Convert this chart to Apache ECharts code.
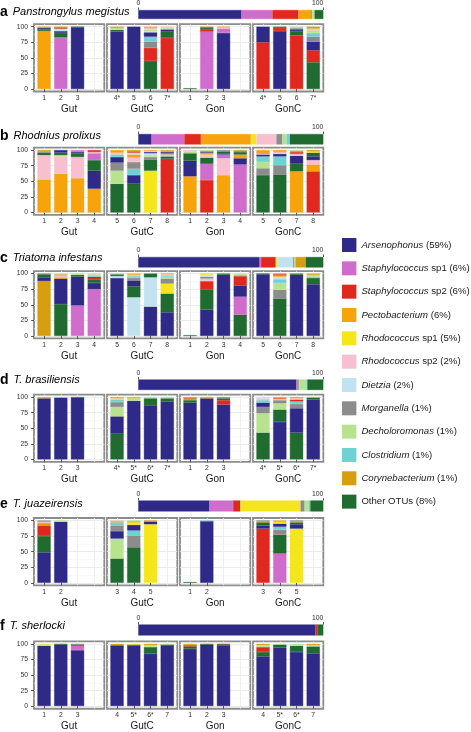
<!DOCTYPE html>
<html><head><meta charset="utf-8">
<script src="https://cdn.jsdelivr.net/npm/echarts@6/dist/echarts.min.js"></script>
<style>html,body{margin:0;padding:0;background:#fff}#c{width:471px;height:732px}</style>
</head><body><div id="c"></div>
<script>
// ---------- taxa / legend ----------
const taxa = ['Arsenophonus','Staphylococcus','Staphylococcus','Pectobacterium','Rhodococcus','Rhodococcus','Dietzia','Morganella','Decholoromonas','Clostridium','Corynebacterium','Other OTUs'];
const taxaSuffix = [' (59%)',' sp1 (6%)',' sp2 (6%)',' (6%)',' sp1 (5%)',' sp2 (2%)',' (2%)',' (1%)',' (1%)',' (1%)',' (1%)',' (8%)'];
const taxaCodes = ['A','S1','S2','P','R1','R2','D','M','De','C','Co','O'];
const palette = ['#2f2a88','#d06ccc','#e0281f','#f6a30c','#f5e61c','#f8bfd0','#c2e2f0','#8c8c8c','#b8e38e','#6fd2d2','#d69e10','#1f6b30'];

const panelLetters = ['a','b','c','d','e','f'];
const speciesNames = ['Panstrongylus megistus','Rhodnius prolixus','Triatoma infestans','T. brasiliensis','T. juazeirensis','T. sherlocki'];
const facetNames = ['Gut','GutC','Gon','GonC'];
const yTicks = [0,25,50,75,100];
const yMinorTicks = [12.5,37.5,62.5,87.5];
const summaryTicks = [0,100];

// ---------- overall composition (legend order) ----------
const aSummary = [55.8,16.7,14.1,6.9,0,0,0,0.5,1.3,0,0,4.7];
const bSummary = [7.2,17.7,9.0,27.0,3.0,10.8,0,3.2,2.2,1.8,0,18.1];
const cSummary = [65.6,0.7,8.0,0,0.7,0,8.7,0.7,0.4,0.3,5.4,9.5];
const dSummary = [85.5,0.9,0,0,0,0,0,0.5,4.0,0.5,0,8.6];
const eSummary = [38.5,12.7,4.0,0,32.5,0,0,2.2,2.2,0.9,0,7.0];
const fSummary = [95.8,0,0.9,0,0,0,0,0,0,0,0,3.3];

// ---------- sample labels ----------
const aLabels = [['1','2','3'],['4*','5','6','7*'],['1','2','3'],['4*','5','6','7*']];
const bLabels = [['1','2','3','4'],['5','6','7','8'],['1','2','3','4'],['5','6','7','8']];
const cLabels = [['1','2','3','4'],['5','6','7','8'],['1','2','3','4'],['5','6','7','8']];
const dLabels = [['1','2','3'],['4*','5*','6*','7*'],['1','2','3'],['4*','5*','6*','7*']];
const eLabels = [['1','2'],['3','4','5'],['1','2'],['3','4','5']];
const fLabels = [['1','2','3'],['4','5*','6*','7'],['1','2','3'],['4','5*','6*','7']];

// ---------- per-sample composition, bottom-to-top segments [taxon, %] ----------
const aGut = [
  [['P',93],['O',3],['A',2],['Co',2]],
  [['S1',82],['M',1],['O',7],['A',3],['D',3],['C',1],['S2',2],['P',1]],
  [['A',99],['O',1]]];
const aGutC = [
  [['A',92],['O',3],['De',3],['Co',2]],
  [['A',100]],
  [['O',45],['S2',21],['M',10],['C',8],['A',7],['D',2],['De',3],['R2',2],['P',2]],
  [['S2',82],['O',10],['A',3],['M',1.5],['De',2.5],['R2',1]]];
const aGon = [
  [['O',1.2]],
  [['S1',92],['S2',3],['O',3],['A',1],['Co',1]],
  [['A',90],['S1',7],['R2',2],['P',1]]];
const aGonC = [
  [['S2',75],['A',25]],
  [['A',93],['S2',5],['O',2]],
  [['S2',86],['O',7],['A',3],['M',1.5],['De',2.5]],
  [['O',43],['S2',19],['A',14],['M',8],['C',6],['De',4],['R2',3],['Co',3]]];

const bGut = [
  [['P',53],['R2',39],['O',4],['M',2],['Co',2]],
  [['P',62],['R2',28],['De',2],['O',4],['A',4]],
  [['P',55],['R2',34],['O',6],['A',2],['S1',3]],
  [['P',38],['A',29],['O',17],['S1',11],['R2',2],['S2',3]]];
const bGutC = [
  [['O',46],['De',21],['M',13],['A',9],['C',4],['R2',3],['P',4]],
  [['O',46],['A',14],['C',10],['M',11],['R2',7],['P',5],['D',3],['S2',2],['Co',2]],
  [['R1',67],['O',18],['M',4],['De',3],['D',3],['A',2],['R2',2],['P',1]],
  [['S2',86],['O',4],['R2',3],['M',2],['A',2],['P',2],['Co',1]]];
const bGon = [
  [['P',58],['A',25],['O',12],['De',3],['R2',2]],
  [['S2',52],['S1',26],['O',10],['R2',5],['P',3],['A',2],['De',2]],
  [['P',60],['R2',27],['S1',6],['A',2],['O',3],['M',2]],
  [['S1',77],['A',10],['P',6],['O',4],['M',2],['Co',1]]];
const bGonC = [
  [['O',60],['M',11],['De',10],['C',9],['A',3],['R2',2],['S2',1],['P',4]],
  [['O',61],['M',15],['C',14],['A',4],['R2',3],['Co',1],['P',2]],
  [['P',66],['O',12],['A',13],['R2',3],['S2',3],['Co',2],['De',1]],
  [['S2',66],['P',11],['R2',7],['A',6],['O',6],['R1',2],['Co',2]]];

const cGut = [
  [['Co',88],['A',6],['O',5],['M',1]],
  [['O',51],['A',41],['P',2],['R2',3],['Co',2],['D',1]],
  [['S1',49],['A',46],['O',3],['De',2]],
  [['S1',75],['A',10],['O',6],['S2',4],['C',2],['De',2],['R2',1]]];
const cGutC = [
  [['A',93],['D',3],['O',3],['De',1]],
  [['D',62],['O',17.5],['A',9.5],['M',4],['C',3],['R2',2],['P',2]],
  [['A',47],['D',47],['O',6]],
  [['A',38],['O',30],['R1',16],['M',8],['De',3],['C',2],['R2',2],['P',1]]];
const cGon = [
  [['O',1.2]],
  [['A',42],['O',33],['S2',13],['R2',4],['M',3],['D',2],['R1',2],['De',1]],
  [['A',98],['O',2]],
  [['O',34],['S1',29],['A',18],['S2',15],['C',2],['De',2]]];
const cGonC = [
  [['A',99],['O',1]],
  [['O',60],['M',14],['De',11],['C',6],['D',4],['P',2],['S2',2],['Co',1]],
  [['A',98],['O',2]],
  [['A',83],['O',10],['C',2],['De',3],['Co',2]]];

const dGut = [
  [['A',98],['P',2]],
  [['A',99],['C',1]],
  [['A',99],['O',1]]];
const dGutC = [
  [['O',41],['A',28],['De',15],['M',8],['C',4],['R2',2],['P',2]],
  [['A',94],['De',4],['P',2]],
  [['A',87],['O',11],['De',2]],
  [['A',93],['O',5],['De',2]]];
const dGon = [
  [['A',91],['O',4],['Co',3],['S2',1],['P',1]],
  [['A',98],['Co',1],['P',1]],
  [['A',88],['S2',7],['O',3],['M',2]]];
const dGonC = [
  [['O',43],['De',31],['M',10],['A',7],['C',4],['R2',3],['D',2]],
  [['A',60],['O',20],['De',10],['M',5],['R2',2],['S2',1],['P',2]],
  [['O',43],['A',39],['M',7],['C',4],['S2',3],['R2',2],['P',2]],
  [['A',96],['O',3],['P',1]]];

const eGut = [
  [['A',49],['O',26],['S2',17],['Co',4],['R2',2],['M',2]],
  [['A',98],['De',2]]];
const eGutC = [
  [['O',39],['De',32],['A',12],['M',9],['C',5],['P',2],['R2',1]],
  [['O',57],['M',19],['C',8],['A',9],['R1',4],['P',2],['De',1]],
  [['R1',94],['A',4],['M',1],['Co',1]]];
const eGon = [
  [['O',1.2]],
  [['A',99],['C',1]]];
const eGonC = [
  [['S2',87],['A',5],['O',5],['Co',2],['M',1]],
  [['S1',47],['O',30],['M',8],['C',5],['A',5],['R1',3],['P',2]],
  [['R1',87],['A',7],['O',3],['Co',2],['M',1]]];

const fGut = [
  [['A',97],['De',2],['R1',1]],
  [['A',99],['O',1]],
  [['A',90],['S1',7],['S2',1],['O',1],['M',1]]];
const fGutC = [
  [['A',97],['O',1],['Co',2]],
  [['A',97],['O',2],['R1',1]],
  [['A',84],['O',11],['De',3],['Co',2]],
  [['A',98],['O',1],['De',1]]];
const fGon = [
  [['A',92],['O',4],['S2',2],['P',1],['Co',1]],
  [['A',99],['O',1]],
  [['A',98],['S2',1],['O',1]]];
const fGonC = [
  [['A',80],['O',7],['S2',8],['De',3],['Co',2]],
  [['A',94],['O',5],['De',1]],
  [['A',87],['O',10],['De',3]],
  [['A',85],['O',11],['De',2],['Co',2]]];

// ---------- layout (pixels) ----------
const L = {
  facetLeft: [34, 107, 180, 253], facetW: 70.3,
  boxTop0: 24.2, pitch: 123.45, boxH: 67.3,
  sumLeft: 138.3, sumW: 185,
  sumTop: [10, 134, 257, 379.5, 500.5, 624.5], sumH: [9, 10.5, 10.5, 10.5, 11, 11],
  titleY: [14, 137.7, 260, 382, 506, 628.3]
};
const font = 'Liberation Sans, Arial, Helvetica, sans-serif';
const slotCount = 4;

const panels = [
  {summary: aSummary, labels: aLabels, facets: [aGut, aGutC, aGon, aGonC]},
  {summary: bSummary, labels: bLabels, facets: [bGut, bGutC, bGon, bGonC]},
  {summary: cSummary, labels: cLabels, facets: [cGut, cGutC, cGon, cGonC]},
  {summary: dSummary, labels: dLabels, facets: [dGut, dGutC, dGon, dGonC]},
  {summary: eSummary, labels: eLabels, facets: [eGut, eGutC, eGon, eGonC]},
  {summary: fSummary, labels: fLabels, facets: [fGut, fGutC, fGon, fGonC]}
];

const legendNames = taxa.map((t, k) => t + taxaSuffix[k]);
const grids = [], xAxes = [], yAxes = [], series = [], titles = [];
const inset = L.facetW * 0.1 / 4.2;   // ggplot discrete expansion (0.6) vs ECharts half-band (0.5)

panels.forEach((pn, p) => {
  const boxTop = L.boxTop0 + L.pitch * p;
  titles.push({
    left: 0, top: L.titleY[p] - 9, padding: 0,
    text: '{l|' + panelLetters[p] + '}{s|' + speciesNames[p] + '}',
    textStyle: { rich: {
      l: { fontSize: 14, fontWeight: 'bold', color: '#000', fontFamily: font },
      s: { fontSize: 11, fontStyle: 'italic', fontWeight: 'normal', color: '#000', fontFamily: font, padding: [0, 0, 0, 5] }
    } }
  });
  // overall composition bar
  const gs = grids.length;
  grids.push({ left: L.sumLeft, top: L.sumTop[p], width: L.sumW, height: L.sumH[p] });
  const xs = xAxes.length;
  xAxes.push({ type: 'value', gridIndex: gs, min: 0, max: 100, position: 'top',
    axisLine: { show: false },
    axisTick: { show: true, customValues: summaryTicks, length: 2.5, lineStyle: { color: '#333', width: 0.8 } },
    axisLabel: { customValues: summaryTicks, fontSize: 6.8, color: '#333', margin: 3, alignMaxLabel: 'right' },
    splitLine: { show: false } });
  const ys = yAxes.length;
  yAxes.push({ type: 'category', gridIndex: gs, data: [''], show: false });
  pn.summary.forEach((v, k) => series.push({
    type: 'bar', name: legendNames[k], xAxisIndex: xs, yAxisIndex: ys, stack: 'sum' + p,
    barWidth: '100%', data: [v],
    itemStyle: { color: palette[k], borderColor: palette[k], borderWidth: v > 0 ? 0.4 : 0 }
  }));
  // facets
  pn.facets.forEach((bars, f) => {
    const labels = pn.labels[f];
    // frame grid: border, grid lines, y ticks/labels
    const gF = grids.length;
    grids.push({ left: L.facetLeft[f], top: boxTop, width: L.facetW, height: L.boxH,
      show: true, borderColor: '#8c8c8c', borderWidth: 1.8, backgroundColor: '#fff' });
    xAxes.push({ type: 'value', gridIndex: gF, min: 0.4, max: 4.6, position: 'top',
      axisLine: { show: false }, axisTick: { show: false, customValues: [1, 2, 3, 4] },
      axisLabel: { show: false }, splitLine: { show: true, lineStyle: { color: '#ebebeb', width: 0.8 } } });
    yAxes.push({ type: 'value', gridIndex: gF, min: -4, max: 104,
      axisLine: { show: false },
      axisTick: { show: f === 0, customValues: yTicks, length: 3, lineStyle: { color: '#333', width: 0.8 } },
      axisLabel: { show: f === 0, customValues: yTicks, fontSize: 6.8, color: '#333', margin: 6 },
      splitLine: { show: true, lineStyle: { color: '#e6e6e6', width: 0.8 } } });
    yAxes.push({ type: 'value', gridIndex: gF, min: -4, max: 104, position: 'right',
      axisLine: { show: false }, axisTick: { show: false, customValues: yMinorTicks },
      axisLabel: { show: false }, splitLine: { show: true, lineStyle: { color: '#f3f3f3', width: 0.5 } } });
    // data grid: bars
    const gD = grids.length;
    grids.push({ left: L.facetLeft[f] + inset, top: boxTop, width: L.facetW - 2 * inset, height: L.boxH });
    const cats = [];
    for (let i = 0; i < slotCount; i++) cats.push(i < labels.length ? labels[i] : '_' + i);
    const xv = xAxes.length;
    xAxes.push({ type: 'category', gridIndex: gD, data: cats, position: 'bottom',
      name: facetNames[f], nameLocation: 'middle', nameGap: 12.5,
      nameTextStyle: { fontSize: 10, color: '#1a1a1a' },
      axisLine: { show: false },
      axisTick: { show: true, alignWithLabel: true, interval: i => i < labels.length, length: 3, lineStyle: { color: '#333', width: 0.8 } },
      axisLabel: { interval: 0, formatter: v => (v.charAt(0) === '_' ? '' : v), fontSize: 6.8, color: '#333', margin: 3 },
      splitLine: { show: false } });
    const yv = yAxes.length;
    yAxes.push({ type: 'value', gridIndex: gD, min: -4, max: 104, show: false });
    const maxSegs = Math.max(...bars.map(b => b.length));
    for (let r = 0; r < maxSegs; r++) {
      series.push({
        type: 'bar', xAxisIndex: xv, yAxisIndex: yv, stack: 'f' + gD, barWidth: '79%',
        data: bars.map(segs => {
          if (!segs[r]) return 0;
          const col = palette[taxaCodes.indexOf(segs[r][0])];
          return { value: segs[r][1], itemStyle: { color: col, borderColor: col, borderWidth: 0.4 } };
        })
      });
    }
  });
});

const chart = echarts.init(document.getElementById('c'), null, { renderer: 'canvas' });
chart.setOption({
  animation: false,
  backgroundColor: '#fff',
  textStyle: { fontFamily: font },
  title: titles,
  legend: {
    orient: 'vertical', left: 342, top: 238, padding: 0, itemWidth: 14.4, itemHeight: 14, itemGap: 9.33,
    icon: 'rect', selectedMode: false, data: legendNames,
    itemStyle: { borderWidth: 0 },
    formatter: name => {
      const k = legendNames.indexOf(name);
      return k < 11 ? '{i|' + taxa[k] + '}{n|' + taxaSuffix[k] + '}' : '{n|' + name + '}';
    },
    textStyle: { fontSize: 9.6, color: '#1a1a1a', rich: {
      i: { fontStyle: 'italic', fontSize: 9.6, color: '#1a1a1a', fontFamily: font },
      n: { fontSize: 9.6, color: '#1a1a1a', fontFamily: font } } }
  },
  grid: grids, xAxis: xAxes, yAxis: yAxes, series: series
});
</script></body></html>
